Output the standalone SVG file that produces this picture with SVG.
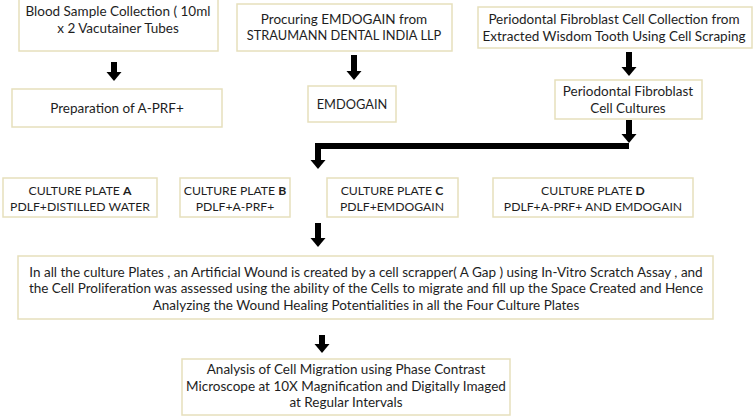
<svg xmlns="http://www.w3.org/2000/svg" width="756" height="417" viewBox="0 0 756 417">
<defs>
<style>
.box{fill:#fff;stroke:#e6dfbc;stroke-width:1.5}
text{font-family:Lato,"Liberation Sans",sans-serif;font-size:13.5px;fill:#1e1e1e;text-anchor:middle}
.k{font-size:12.2px}
.m{font-size:12.8px}
.c{fill:none;stroke:#000;stroke-width:6;stroke-linejoin:miter}
</style>
<marker id="ah" markerUnits="userSpaceOnUse" markerWidth="10" markerHeight="16" viewBox="0 -8 10 16" refX="0" refY="0" orient="auto" overflow="visible">
<path d="M0,-7.5 L9,0 L0,7.5 Z" fill="#000"/>
</marker>
</defs>
<rect width="756" height="417" fill="#fff"/>
<g id="connectors">
<line class="c" x1="114" y1="62" x2="114" y2="72" marker-end="url(#ah)"/>
<line class="c" x1="354" y1="55" x2="354" y2="71" marker-end="url(#ah)"/>
<line class="c" x1="629" y1="52" x2="629" y2="67" marker-end="url(#ah)"/>
<line class="c" x1="629" y1="120" x2="629" y2="134" marker-end="url(#ah)"/>
<path class="c" d="M629,146 H318 V160" marker-end="url(#ah)"/>
<line class="c" x1="318" y1="223" x2="318" y2="238" marker-end="url(#ah)"/>
<line class="c" x1="322" y1="335" x2="322" y2="344" marker-end="url(#ah)"/>
</g>
<g id="blood">
<rect class="box" x="19" y="-1" width="199" height="52"/>
<text x="118" y="16">Blood Sample Collection ( 10ml</text>
<text x="118" y="33">x 2 Vacutainer Tubes</text>
</g>
<g id="aprf">
<rect class="box" x="12" y="89" width="210" height="38"/>
<text x="117" y="113">Preparation of A-PRF+</text>
</g>
<g id="procuring">
<rect class="box" x="237" y="4" width="215" height="47"/>
<text x="344" y="24">Procuring EMDOGAIN from</text>
<text class="m" x="344" y="40">STRAUMANN DENTAL INDIA LLP</text>
</g>
<g id="emdogain">
<rect class="box" x="308" y="86" width="88" height="36"/>
<text class="m" x="352" y="109">EMDOGAIN</text>
</g>
<g id="collection">
<rect class="box" x="478" y="7" width="274" height="41"/>
<text x="614" y="24">Periodontal Fibroblast Cell Collection from</text>
<text x="614" y="41">Extracted Wisdom Tooth Using Cell Scraping</text>
</g>
<g id="cultures">
<rect class="box" x="555" y="80" width="147" height="39"/>
<text x="628" y="96">Periodontal Fibroblast</text>
<text x="628" y="113">Cell Cultures</text>
</g>
<g id="plateA">
<rect class="box" x="3" y="178" width="154" height="39"/>
<text class="k" x="80" y="195">CULTURE PLATE <tspan font-weight="bold">A</tspan></text>
<text class="k" x="80" y="211">PDLF+DISTILLED WATER</text>
</g>
<g id="plateB">
<rect class="box" x="180" y="178" width="110" height="39"/>
<text class="k" x="235" y="195">CULTURE PLATE <tspan font-weight="bold">B</tspan></text>
<text class="k" x="235" y="211">PDLF+A-PRF+</text>
</g>
<g id="plateC">
<rect class="box" x="327" y="178" width="131" height="39"/>
<text class="k" x="392" y="195">CULTURE PLATE <tspan font-weight="bold">C</tspan></text>
<text class="k" x="392" y="211">PDLF+EMDOGAIN</text>
</g>
<g id="plateD">
<rect class="box" x="493" y="178" width="200" height="39"/>
<text class="k" x="593" y="195">CULTURE PLATE <tspan font-weight="bold">D</tspan></text>
<text class="k" x="593" y="211">PDLF+A-PRF+ AND EMDOGAIN</text>
</g>
<g id="wound">
<rect class="box" x="18" y="256" width="695" height="63"/>
<text x="366" y="277">In all the culture Plates , an Artificial Wound is created by a cell scrapper( A Gap ) using In-Vitro Scratch Assay , and</text>
<text x="366" y="293">the Cell Proliferation was assessed using the ability of the Cells to migrate and fill up the Space Created and Hence</text>
<text x="366" y="310">Analyzing the Wound Healing Potentialities in all the Four Culture Plates</text>
</g>
<g id="analysis">
<rect class="box" x="182" y="359" width="328" height="56"/>
<text x="346" y="374">Analysis of Cell Migration using Phase Contrast</text>
<text x="346" y="391">Microscope at 10X Magnification and Digitally Imaged</text>
<text x="346" y="407">at Regular Intervals</text>
</g>
</svg>
